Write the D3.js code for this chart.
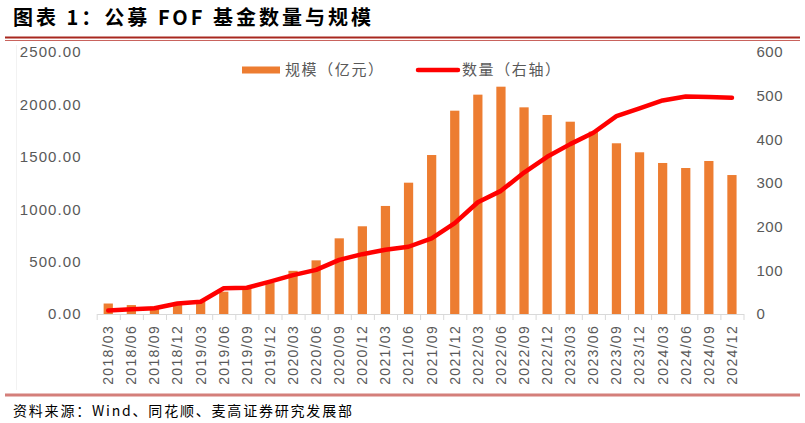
<!DOCTYPE html>
<html>
<head>
<meta charset="utf-8">
<script src="https://cdn.jsdelivr.net/npm/d3@7"></script>
<style>
  body { margin: 0; background: #fff; }
  svg { display: block; }
  .cn { font-family: "Noto Sans CJK SC", sans-serif; }
  .num { font-family: "Liberation Sans", Arial, sans-serif; fill: #595959; }
</style>
</head>
<body>
<svg id="chart" width="805" height="423"></svg>
<script>
// 季度
var dates = ["2018/03","2018/06","2018/09","2018/12","2019/03","2019/06","2019/09","2019/12",
  "2020/03","2020/06","2020/09","2020/12","2021/03","2021/06","2021/09","2021/12",
  "2022/03","2022/06","2022/09","2022/12","2023/03","2023/06","2023/09","2023/12",
  "2024/03","2024/06","2024/09","2024/12"];
// 规模（亿元）
var scaleVals = [100, 85, 72, 115, 130, 213, 245, 299, 412, 512, 722, 837, 1031, 1253,
  1517, 1940, 2093, 2169, 1972, 1899, 1835, 1740, 1629, 1543, 1441, 1393, 1460, 1326];
// 数量（右轴）
var countVals = [8, 11, 13, 24, 28, 59, 60, 74, 89, 101, 124, 137, 147, 154,
  173, 208, 256, 282, 324, 360, 389, 415, 453, 471, 489, 498, 497, 495];
var leftTicks = [0, 500, 1000, 1500, 2000, 2500];
var rightTicks = [0, 100, 200, 300, 400, 500, 600];

function drawChart(){
    let svg = d3.select("#chart");
    let plotLeft = 96.7, plotRight = 743.5, plotTop = 52, plotBottom = 314;

    // 标题
    svg.append("text").attr("class", "cn")
        .attr("x", 13).attr("y", 25)
        .attr("font-size", 20).attr("font-weight", "bold")
        .attr("letter-spacing", 3)
        .attr("fill", "#000")
        .text("图表 1：公募 FOF 基金数量与规模");
    svg.append("line").attr("x1", 5).attr("x2", 800).attr("y1", 37.5).attr("y2", 37.5)
        .attr("stroke", "#a8281f").attr("stroke-width", 2.2);
    svg.append("line").attr("x1", 5).attr("x2", 800).attr("y1", 40.5).attr("y2", 40.5)
        .attr("stroke", "#c9635d").attr("stroke-width", 1);

    // 左边浅色框线
    svg.append("line").attr("x1", 16.5).attr("x2", 16.5).attr("y1", 45).attr("y2", 390)
        .attr("stroke", "#f2f2f2");

    let x = d3.scaleBand().domain(dates).range([plotLeft, plotRight]).paddingInner(0.6).paddingOuter(0.3);
    let xEdge = d3.scaleLinear().domain([0, dates.length]).range([plotLeft, plotRight]);
    let yL = d3.scaleLinear().domain([0, 2500]).range([plotBottom, plotTop]);
    let yR = d3.scaleLinear().domain([0, 600]).range([plotBottom, plotTop]);

    // 柱子
    svg.append("g").selectAll("rect")
        .data(scaleVals)
        .join("rect")
        .attr("x", (d, i) => x(dates[i]))
        .attr("y", d => yL(d))
        .attr("width", x.bandwidth())
        .attr("height", d => yL(0) - yL(d))
        .attr("fill", "#ED7D31");

    // x轴线和刻度
    let xTickAxis = svg.append("g")
        .attr("transform", "translate(0," + plotBottom + ")")
        .call(d3.axisBottom(xEdge).tickValues(d3.range(dates.length + 1)).tickFormat("").tickSize(6).tickSizeOuter(0));
    xTickAxis.selectAll("line").attr("stroke", "#d9d9d9");
    xTickAxis.select(".domain").attr("stroke", "#d9d9d9").attr("stroke-width", 1.2);

    let xLabelAxis = svg.append("g")
        .attr("transform", "translate(0," + plotBottom + ")")
        .call(d3.axisBottom(x).tickSize(0));
    xLabelAxis.select(".domain").remove();
    xLabelAxis.selectAll("text")
        .attr("class", "num")
        .attr("font-size", 14)
        .attr("letter-spacing", 1.3)
        .attr("transform", "rotate(-90)")
        .attr("x", -11).attr("y", 0).attr("dy", "0.35em")
        .style("text-anchor", "end");

    // 左轴
    let yLeft = svg.append("g")
        .attr("transform", "translate(" + plotLeft + ",0)")
        .call(d3.axisLeft(yL).tickValues(leftTicks).tickFormat(d3.format(".2f")).tickSize(0).tickPadding(15));
    yLeft.select(".domain").remove();
    yLeft.selectAll("text").attr("class", "num").attr("font-size", 15).attr("letter-spacing", 1.1);

    // 右轴
    let yRight = svg.append("g")
        .attr("transform", "translate(" + plotRight + ",0)")
        .call(d3.axisRight(yR).tickValues(rightTicks).tickSize(0).tickPadding(13));
    yRight.select(".domain").remove();
    yRight.selectAll("text").attr("class", "num").attr("font-size", 15).attr("letter-spacing", 0.5);

    // 数量折线
    let line = d3.line()
        .x((d, i) => x(dates[i]) + x.bandwidth() / 2)
        .y(d => yR(d));
    svg.append("path")
        .datum(countVals)
        .attr("d", line)
        .attr("fill", "none")
        .attr("stroke", "#ff0000")
        .attr("stroke-width", 4.5)
        .attr("stroke-linejoin", "round")
        .attr("stroke-linecap", "round");

    // 图例
    let legend = svg.append("g");
    legend.append("rect").attr("x", 242).attr("y", 66.5).attr("width", 38).attr("height", 7).attr("fill", "#ED7D31");
    legend.append("text").attr("class", "cn").attr("x", 285).attr("y", 70).attr("dy", "0.35em")
        .attr("font-size", 15).attr("letter-spacing", 1.6).attr("fill", "#595959").text("规模（亿元）");
    legend.append("line").attr("x1", 418).attr("x2", 458).attr("y1", 70).attr("y2", 70)
        .attr("stroke", "#ff0000").attr("stroke-width", 4.5).attr("stroke-linecap", "round");
    legend.append("text").attr("class", "cn").attr("x", 462).attr("y", 70).attr("dy", "0.35em")
        .attr("font-size", 15).attr("letter-spacing", 1.6).attr("fill", "#595959").text("数量（右轴）");

    // 底部
    svg.append("line").attr("x1", 5).attr("x2", 800).attr("y1", 395).attr("y2", 395)
        .attr("stroke", "#d47f7a").attr("stroke-width", 3);
    svg.append("text").attr("class", "cn")
        .attr("x", 13).attr("y", 416)
        .attr("font-size", 14).attr("letter-spacing", 1.8).attr("fill", "#000")
        .text("资料来源：Wind、同花顺、麦高证券研究发展部");
}

drawChart();
</script>
</body>
</html>
